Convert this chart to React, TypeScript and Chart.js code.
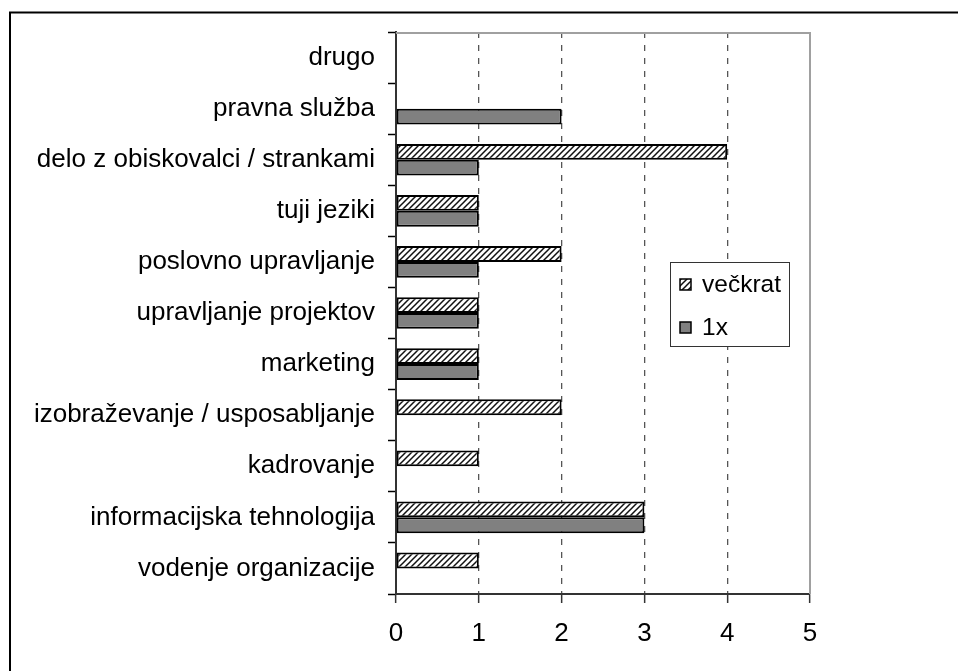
import React, { useEffect, useRef } from 'react';
import { Chart, registerables } from 'chart.js';

Chart.register(...registerables);

const categories = [
  'drugo',
  'pravna služba',
  'delo z obiskovalci / strankami',
  'tuji jeziki',
  'poslovno upravljanje',
  'upravljanje projektov',
  'marketing',
  'izobraževanje / usposabljanje',
  'kadrovanje',
  'informacijska tehnologija',
  'vodenje organizacije',
];
const seriesNames = ['večkrat', '1x'];
const vecKrat = [0, 0, 4, 1, 2, 1, 1, 2, 1, 3, 1];
const enkrat = [0, 2, 1, 1, 1, 1, 1, 0, 0, 3, 0];
const xMin = 0;
const xMax = 5;
const xStep = 1;

const FONT = 'Arial, "Liberation Sans", sans-serif';

function makeHatch(ctx: CanvasRenderingContext2D) {
  const c = document.createElement('canvas');
  c.width = 6;
  c.height = 6;
  const g = c.getContext('2d')!;
  g.fillStyle = '#ffffff';
  g.fillRect(0, 0, 6, 6);
  g.strokeStyle = '#111111';
  g.lineWidth = 1.5;
  g.beginPath();
  g.moveTo(-1, 7);
  g.lineTo(7, -1);
  g.moveTo(-4, 4);
  g.lineTo(4, -4);
  g.moveTo(2, 10);
  g.lineTo(10, 2);
  g.stroke();
  return ctx.createPattern(c, 'repeat');
}

const framePlugin = {
  id: 'outerFrame',
  beforeDraw(chart: any) {
    const { ctx, width, height } = chart;
    ctx.save();
    ctx.strokeStyle = '#000';
    ctx.lineWidth = 2;
    ctx.beginPath();
    ctx.moveTo(10, height);
    ctx.lineTo(10, 12.5);
    ctx.lineTo(width, 12.5);
    ctx.stroke();
    ctx.restore();
  },
  beforeDatasetsDraw(chart: any) {
    const { ctx, chartArea: a } = chart;
    ctx.save();
    ctx.strokeStyle = '#a0a0a0';
    ctx.lineWidth = 2;
    ctx.beginPath();
    ctx.moveTo(a.left, a.top + 1);
    ctx.lineTo(a.right, a.top + 1);
    ctx.lineTo(a.right, a.bottom);
    ctx.stroke();
    ctx.restore();
  },
};

const legendPlugin = {
  id: 'boxLegend',
  afterDraw(chart: any) {
    const { ctx, chartArea: a } = chart;
    const w = a.right - a.left;
    const h = a.bottom - a.top;
    const x = Math.round(a.left + w * 0.662);
    const y = Math.round(a.top + h * 0.409);
    const bw = 119;
    const bh = 84;
    ctx.save();
    ctx.fillStyle = '#ffffff';
    ctx.fillRect(x, y, bw, bh);
    ctx.strokeStyle = '#333';
    ctx.lineWidth = 1;
    ctx.strokeRect(x + 0.5, y + 0.5, bw, bh);
    chart.data.datasets.forEach((ds: any, i: number) => {
      const sy = y + 17 + i * 43;
      ctx.fillStyle = ds.backgroundColor;
      ctx.fillRect(x + 10, sy, 11, 11);
      ctx.strokeStyle = '#000';
      ctx.lineWidth = 1.5;
      ctx.strokeRect(x + 10, sy, 11, 11);
      ctx.fillStyle = '#000';
      ctx.font = '24.5px ' + FONT;
      ctx.textBaseline = 'alphabetic';
      ctx.textAlign = 'left';
      ctx.fillText(ds.label, x + 32, sy + 13);
    });
    ctx.restore();
  },
};

export default function App() {
  const ref = useRef<HTMLCanvasElement | null>(null);

  useEffect(() => {
    const canvas = ref.current!;
    const ctx = canvas.getContext('2d')!;
    const hatch = makeHatch(ctx);

    const chart = new Chart(canvas, {
      type: 'bar',
      data: {
        labels: categories,
        datasets: [
          {
            label: seriesNames[0],
            data: vecKrat,
            backgroundColor: hatch as any,
            borderColor: '#000',
            borderWidth: 2,
            borderSkipped: false,
          },
          {
            label: seriesNames[1],
            data: enkrat,
            backgroundColor: '#808080',
            borderColor: '#000',
            borderWidth: 2,
            borderSkipped: false,
          },
        ],
      },
      options: {
        indexAxis: 'y',
        animation: false,
        responsive: false,
        devicePixelRatio: 1,
        datasets: {
          bar: {
            categoryPercentage: 0.62,
            barPercentage: 1,
          },
        },
        layout: { padding: { left: 0, top: 32, right: 148, bottom: 0 } },
        plugins: {
          legend: { display: false },
          tooltip: { enabled: false },
          title: { display: false },
        },
        scales: {
          x: {
            type: 'linear',
            min: xMin,
            max: xMax,
            ticks: {
              stepSize: xStep,
              color: '#000',
              font: { size: 26, family: FONT },
              padding: 15,
            },
            grid: {
              color: (c: any) =>
                c.tick && (c.tick.value === xMin || c.tick.value === xMax)
                  ? 'rgba(0,0,0,0)'
                  : '#555',
              lineWidth: 1.3,
              tickColor: '#333',
              tickWidth: 1.5,
              tickLength: 9,
              tickBorderDash: [],
            },
            border: { display: true, color: '#333', width: 2, dash: [6, 7] },
            afterFit: (s: any) => {
              s.height = 77;
            },
          },
          y: {
            type: 'category',
            offset: true,
            ticks: {
              color: '#000',
              font: { size: 26, family: FONT },
              padding: 13,
              autoSkip: false,
            },
            grid: {
              offset: true,
              drawOnChartArea: false,
              tickColor: '#000',
              tickLength: 8,
              tickWidth: 1.5,
            },
            border: { display: true, color: '#333', width: 2 },
            afterFit: (s: any) => {
              s.width = 396;
            },
          },
        },
      },
      plugins: [framePlugin, legendPlugin],
    } as any);

    return () => chart.destroy();
  }, []);

  return (
    <div style={{ position: 'fixed', left: 0, top: 0, width: 958, height: 671 }}>
      <canvas ref={ref} width={958} height={671} style={{ display: 'block' }} />
    </div>
  );
}
